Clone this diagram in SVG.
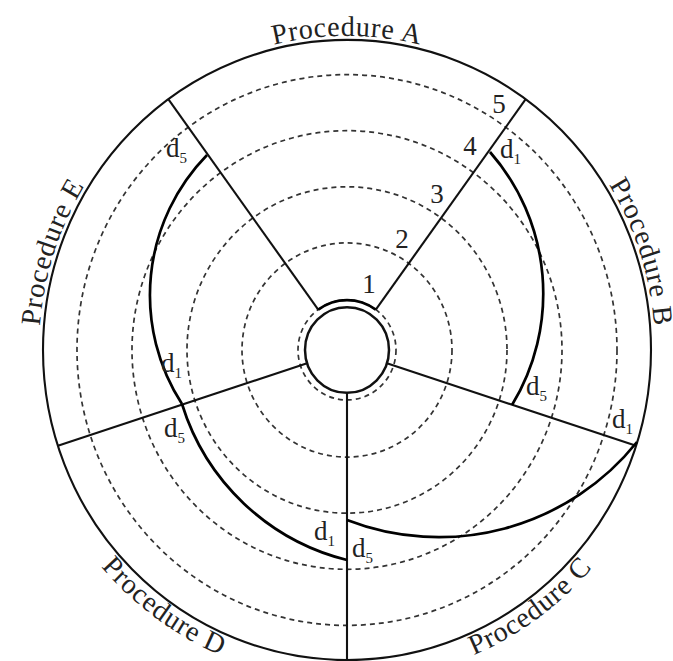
<svg xmlns="http://www.w3.org/2000/svg" width="673" height="661" viewBox="0 0 673 661">
<style>
.ln{stroke:#111;stroke-width:2.1;fill:none}
.ds{stroke:#333;stroke-width:1.7;fill:none;stroke-dasharray:5 4}
.sp{stroke:#000;stroke-width:2.7;fill:none}
.lb{font-family:"Liberation Serif","Times New Roman",serif;font-size:28px;letter-spacing:0.8px;fill:#222}
.num{font-family:"Liberation Serif","Times New Roman",serif;font-size:27px;fill:#222;text-anchor:middle}
.dl{font-family:"Liberation Serif","Times New Roman",serif;font-size:27px;fill:#222}
.sub{font-size:15px}
</style>
<defs>
<path id="pA" d="M-266.7,-154 A308,308 0 0 1 266.7,-154"/>
<path id="pB" d="M64,-301.3 A308,308 0 0 1 228.9,206.1"/>
<path id="pE" d="M-228.9,206.1 A308,308 0 0 1 -64,-301.3"/>
<path id="pC" d="M-132.6,297.8 A327,327 0 0 0 324.2,-34.1"/>
<path id="pD" d="M-324.2,-34.1 A327,327 0 0 0 132.6,297.8"/>
</defs>
<rect width="673" height="661" fill="#fff"/>
<g id="rings" transform="translate(347,350) scale(1,1.02)">
<circle class="ds" r="49"/>
<circle class="ds" r="105"/>
<circle class="ds" r="160"/>
<circle class="ds" r="215"/>
<circle class="ds" r="270"/>
<circle class="ln" r="304"/>
<circle class="ln" r="42" style="stroke-width:2.5"/>
</g>
<g id="sector-lines" transform="translate(347,350) scale(1,1.02)">
<line class="ln" x1="-28.8" y1="-39.6" x2="-178.7" y2="-245.9"/>
<line class="ln" x1="28.8" y1="-39.6" x2="178.7" y2="-245.9"/>
<line class="ln" x1="39.9" y1="13" x2="289.1" y2="93.9"/>
<line class="ln" x1="0" y1="42" x2="0" y2="304"/>
<line class="ln" x1="-39.9" y1="13" x2="-289.1" y2="93.9"/>
</g>
<g id="paths">
<path id="arcA" class="sp" transform="translate(347,350) scale(1,1.02)" d="M-28.8,-39.6 A49,49 0 0 1 28.8,-39.6"/>
<path id="arcB" class="sp" d="M490,152 A214.6,214.6 0 0 1 512,405"/>
<path id="arcC" class="sp" d="M637,442 A254,254 0 0 1 347,520"/>
<path id="arcD" class="sp" d="M347,560 A231,231 0 0 1 182,404"/>
<path id="arcE" class="sp" d="M182,404 A200.7,200.7 0 0 1 207,155"/>
</g>
<g id="procedure-labels" transform="translate(347,350) scale(1,1.02)">
<text class="lb" text-anchor="middle"><textPath href="#pA" startOffset="50%">Procedure A</textPath></text>
<text class="lb" text-anchor="middle"><textPath href="#pB" startOffset="50%">Procedure B</textPath></text>
<text class="lb" text-anchor="middle"><textPath href="#pC" startOffset="50%">Procedure C</textPath></text>
<text class="lb" text-anchor="middle"><textPath href="#pD" startOffset="50%">Procedure D</textPath></text>
<text class="lb" text-anchor="middle"><textPath href="#pE" startOffset="50%">Procedure E</textPath></text>
</g>
<g id="ring-numbers">
<text class="num" x="369" y="293">1</text>
<text class="num" x="402" y="248">2</text>
<text class="num" x="437" y="203">3</text>
<text class="num" x="470" y="155">4</text>
<text class="num" x="499" y="113">5</text>
</g>
<g id="d-labels">
<text class="dl" x="166" y="157">d<tspan class="sub" dy="6">5</tspan></text>
<text class="dl" x="500" y="158">d<tspan class="sub" dy="6">1</tspan></text>
<text class="dl" x="526" y="395">d<tspan class="sub" dy="6">5</tspan></text>
<text class="dl" x="612" y="428">d<tspan class="sub" dy="6">1</tspan></text>
<text class="dl" x="352" y="557">d<tspan class="sub" dy="6">5</tspan></text>
<text class="dl" x="314" y="540">d<tspan class="sub" dy="6">1</tspan></text>
<text class="dl" x="164" y="437">d<tspan class="sub" dy="6">5</tspan></text>
<text class="dl" x="161" y="372">d<tspan class="sub" dy="6">1</tspan></text>
</g>
</svg>
